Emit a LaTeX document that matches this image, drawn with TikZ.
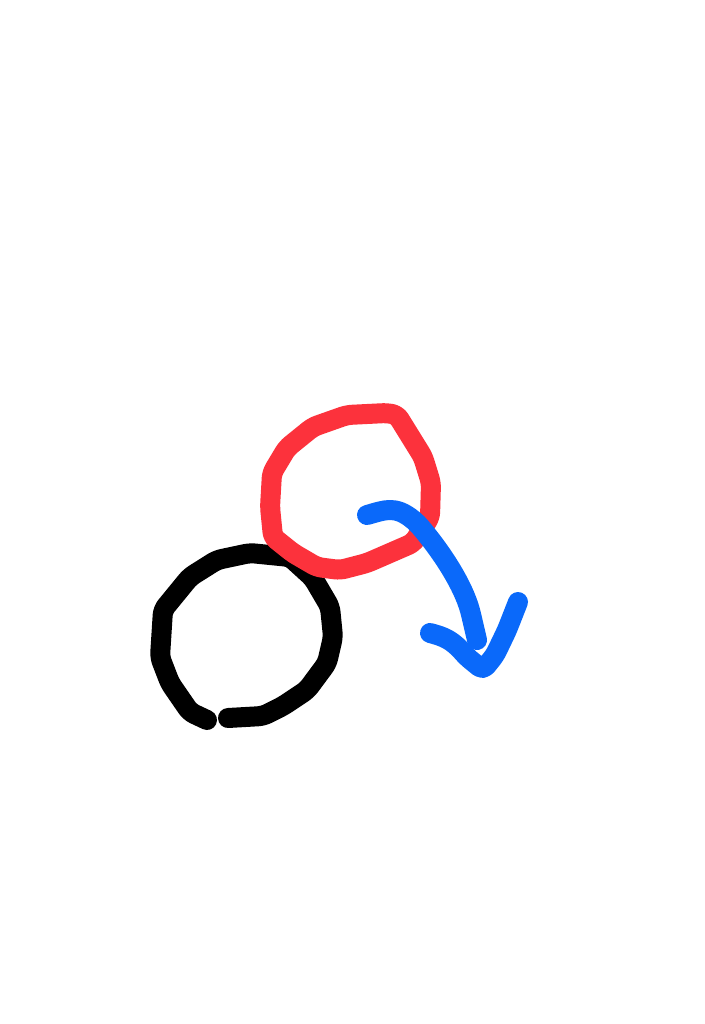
\documentclass[tikz,border=0pt]{standalone}
\begin{document}
\begin{tikzpicture}[x=1pt,y=-1pt,
  pen/.style={line width=20pt,line cap=round,line join=round,rounded corners=5pt},
  ]
\definecolor{penred}{RGB}{252,50,60}
\definecolor{penblue}{RGB}{10,105,250}
\useasboundingbox[fill=white] (0,0) rectangle (704,1024);
% black circle
\draw[pen,black] (228,718) -- (263,716) -- (283,706) -- (307,690) -- (327,663) -- (333,637) -- (330,607) -- (313,578) -- (290,557) -- (250,553) -- (217,560) -- (190,577) -- (163,610) -- (160,657) -- (170,683) -- (190,712) -- (207,720);
% red circle
\draw[pen,penred] (397,415) -- (423,457) -- (431,483) -- (430,517) -- (413,543) -- (390,553) -- (367,563) -- (340,570) -- (317,567) -- (293,553) -- (273,537) -- (270,507) -- (272,473) -- (287,448) -- (313,427) -- (347,415) -- (387,413) -- cycle;
% blue arrow
\draw[pen,penblue] (367,515) .. controls (385,510) and (395,505) .. (417,523) .. controls (440,550) and (460,580) .. (470,610) -- (477,640);
\draw[pen,penblue] (430,633) .. controls (445,637) and (452,640) .. (467,657) -- (483,670) -- (495,655) -- (507,630) -- (518,602);
\end{tikzpicture}
\end{document}
